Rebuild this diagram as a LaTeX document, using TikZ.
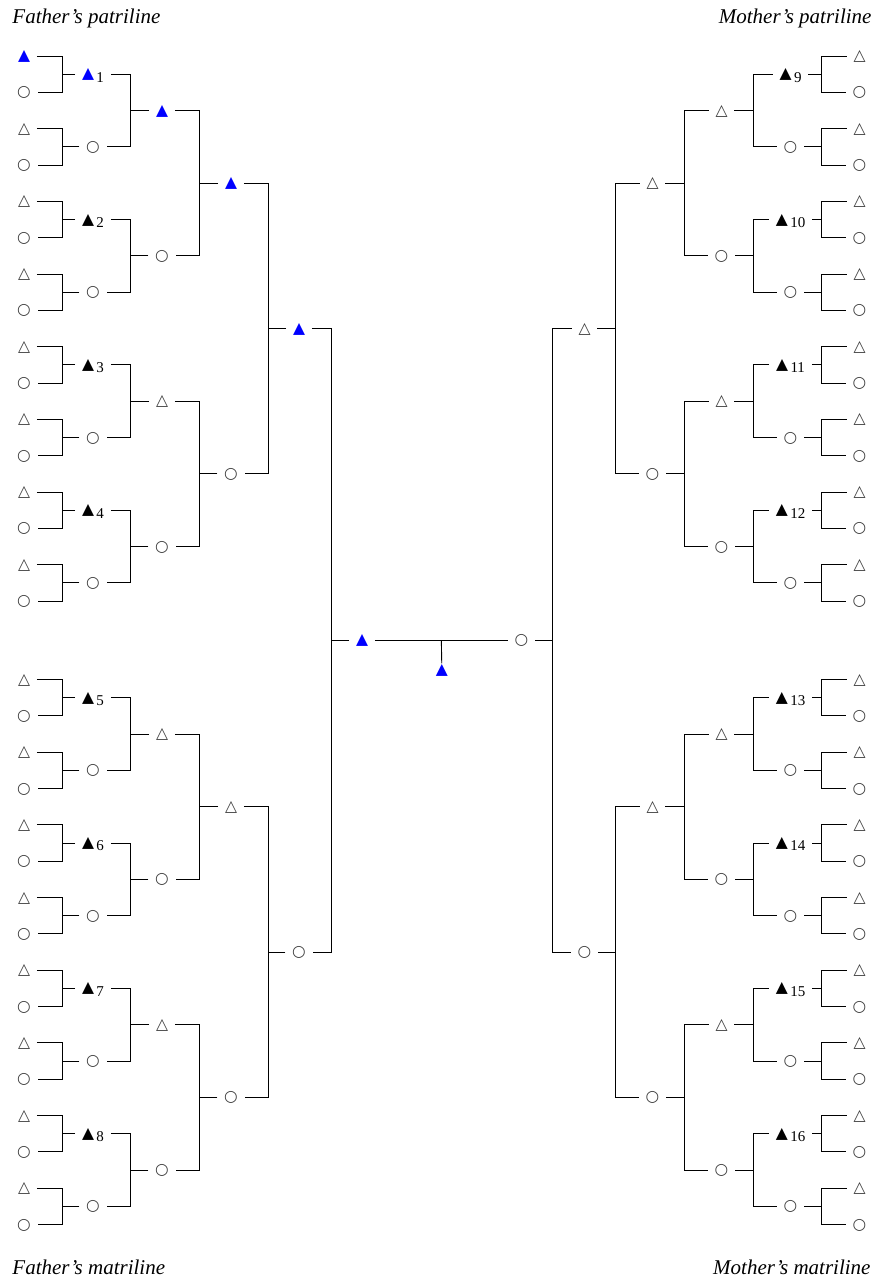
\documentclass[tikz,border=0pt]{standalone}
\usepackage{fontspec}
\setmainfont{Liberation Serif}
\newfontfamily\symfont{DejaVu Sans}
\usepackage{tikz}
\usetikzlibrary{calc}
\definecolor{yblue}{RGB}{0,0,255}
\definecolor{shade}{RGB}{60,60,60}
\newcommand{\symsize}{\fontsize{7.8}{8}\selectfont}
\newcommand{\msym}{{\symfont\symsize\textcolor{shade}{△}}}
\newcommand{\fsym}{{\symfont\symsize\textcolor{shade}{○}}}
\newcommand{\asym}{{\symfont\symsize ▲}}
\newcommand{\ysym}{{\symfont\symsize\textcolor{yblue}{▲}}}
\newcommand{\numb}[1]{\raisebox{-1.7pt}{\fontsize{7.5}{8}\selectfont\,#1}}

\begin{document}
\begin{tikzpicture}[x=0.5pt, y=-0.5pt, line width=0.45pt,
  person/.style={inner xsep=3.4pt, inner ysep=1pt, outer sep=0pt, text height=4.6pt, text depth=0pt},
  heading/.style={inner sep=0pt, font=\itshape\fontsize{10.5}{12}\selectfont}]
  \useasboundingbox (0,0) rectangle (877,1282);
  % headings
  \node[heading, anchor=base west] (t-fp) at (12,23) {Father’s patriline};
  \node[heading, anchor=base east] (t-mp) at (872,23) {Mother’s patriline};
  \node[heading, anchor=base west] (t-fm) at (12,1274) {Father’s matriline};
  \node[heading, anchor=base east] (t-mm) at (871,1274) {Mother’s matriline};
  % father's ancestors, one generation at a time
  \foreach \g/\x in {1/299, 2/231, 3/162, 4/93, 5/24} {
    \pgfmathtruncatemacro\nmax{2^\g-1}
    \pgfmathtruncatemacro\w{2^(5-\g)}
    \foreach \i in {0,...,\nmax} {
      \pgfmathsetmacro\y{56+36.33*(\i*\w+(\w-1)/2)+42.2*(\i*\w>=16)}
      \ifodd\i \def\sym{\fsym}\else \def\sym{\msym}\fi
      \def\idx{}
      \ifnum\g=4 \ifodd\i\else
        \pgfmathtruncatemacro\k{\i/2+1}\def\sym{\asym}\def\idx{\numb{\k}}\fi\fi
      \ifnum\i=0 \def\sym{\ysym}\fi
      \node[person] (fa-\g-\i) at (\x,\y) {\sym\idx};
    }
  }
  % mother's ancestors
  \foreach \g/\x in {1/584.5, 2/652.5, 3/721.5, 4/790.5, 5/859.5} {
    \pgfmathtruncatemacro\nmax{2^\g-1}
    \pgfmathtruncatemacro\w{2^(5-\g)}
    \foreach \i in {0,...,\nmax} {
      \pgfmathsetmacro\y{56+36.33*(\i*\w+(\w-1)/2)+42.2*(\i*\w>=16)}
      \ifodd\i \def\sym{\fsym}\else \def\sym{\msym}\fi
      \def\idx{}
      \ifnum\g=4 \ifodd\i\else
        \pgfmathtruncatemacro\k{\i/2+9}\def\sym{\asym}\def\idx{\numb{\k}}\fi\fi
      \node[person] (mo-\g-\i) at (\x,\y) {\sym\idx};
    }
  }
  % brackets, father's side
  \foreach \g/\bx in {1/268, 2/199, 3/130, 4/62} {
    \pgfmathtruncatemacro\nmax{2^\g-1}
    \pgfmathtruncatemacro\h{\g+1}
    \coordinate (fa-x-\g) at (\bx,0);
    \foreach \i in {0,...,\nmax} {
      \pgfmathtruncatemacro\pa{2*\i}
      \pgfmathtruncatemacro\pb{2*\i+1}
      \draw (fa-\g-\i.west) -- (fa-\g-\i.west -| fa-x-\g);
      \draw (fa-\h-\pa.east) -| (fa-x-\g |- fa-\h-\pb.east) -- (fa-\h-\pb.east);
    }
  }
  % brackets, mother's side
  \foreach \g/\bx in {1/615.5, 2/684.5, 3/753.5, 4/821.5} {
    \pgfmathtruncatemacro\nmax{2^\g-1}
    \pgfmathtruncatemacro\h{\g+1}
    \coordinate (mo-x-\g) at (\bx,0);
    \foreach \i in {0,...,\nmax} {
      \pgfmathtruncatemacro\pa{2*\i}
      \pgfmathtruncatemacro\pb{2*\i+1}
      \draw (mo-\g-\i.east) -- (mo-\g-\i.east -| mo-x-\g);
      \draw (mo-\h-\pa.west) -| (mo-x-\g |- mo-\h-\pb.west) -- (mo-\h-\pb.west);
    }
  }
  % parents and child
  \node[person] (fa) at (362,640.2) {\ysym};
  \node[person] (mo) at (521.5,640.2) {\fsym};
  \coordinate (fa-x-0) at (331,0);
  \coordinate (mo-x-0) at (552.5,0);
  \draw (fa.west) -- (fa.west -| fa-x-0);
  \draw (fa-1-0.east) -| (fa-x-0 |- fa-1-1.east) -- (fa-1-1.east);
  \draw (mo.east) -- (mo.east -| mo-x-0);
  \draw (mo-1-0.west) -| (mo-x-0 |- mo-1-1.west) -- (mo-1-1.west);
  \draw (fa.east) -- coordinate[midway] (wed) (mo.west);
  \node[person] (child) at (441.75,670) {\ysym};
  \draw (wed) -- (child.north);
\end{tikzpicture}
\end{document}
